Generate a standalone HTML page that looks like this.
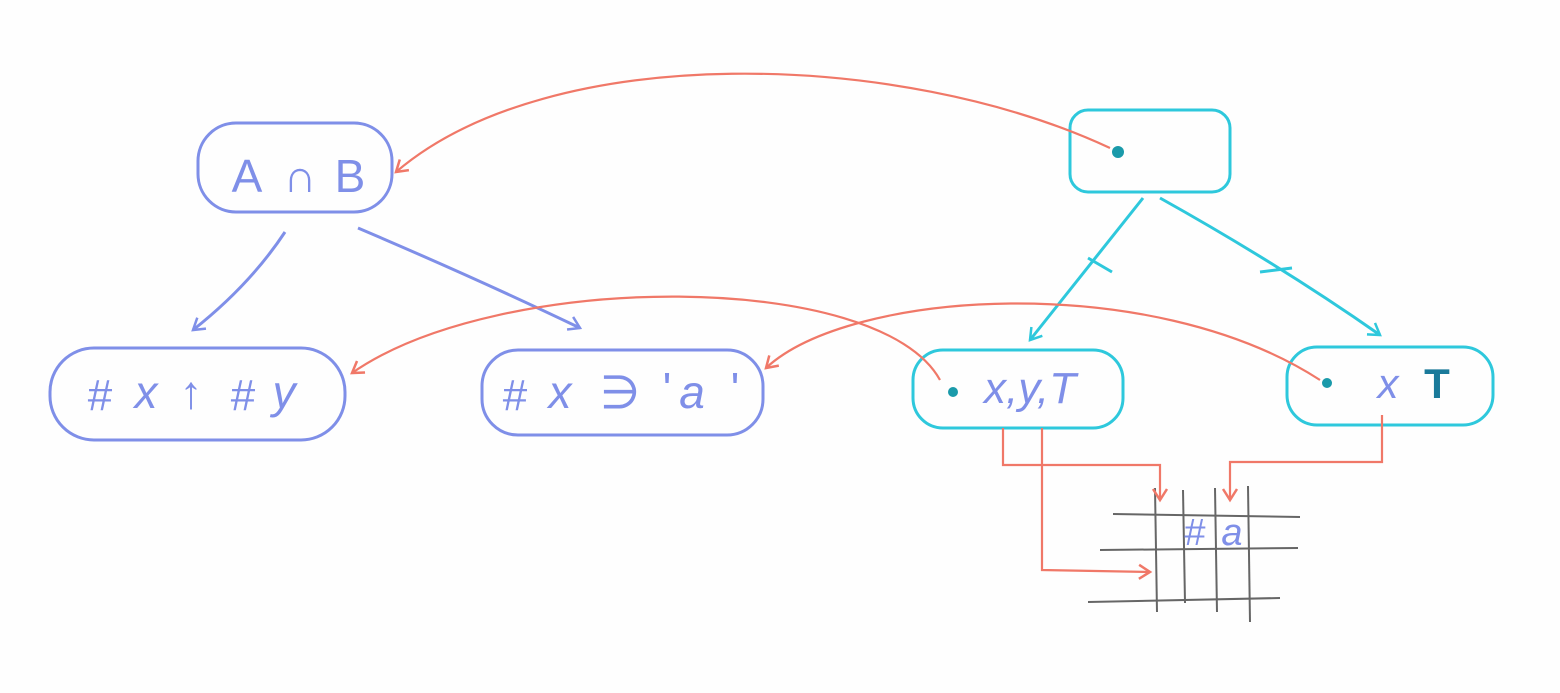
<!DOCTYPE html>
<html><head><meta charset="utf-8"><style>
html,body{margin:0;padding:0;background:#fff;}
svg{display:block;}
text{font-family:"Liberation Sans",sans-serif;text-anchor:middle;}
</style></head><body>
<svg width="1560" height="693" viewBox="0 0 1560 693" xmlns="http://www.w3.org/2000/svg">
<rect width="1560" height="693" fill="#fefefe"/>
<defs>
<marker id="ar" markerWidth="18" markerHeight="18" refX="13" refY="9" orient="auto" markerUnits="userSpaceOnUse"><path d="M2,2 L13,9 L2,16" fill="none" stroke="#f07868" stroke-width="2.5"/></marker>
<marker id="ab" markerWidth="18" markerHeight="18" refX="13" refY="9" orient="auto" markerUnits="userSpaceOnUse"><path d="M2,2 L13,9 L2,16" fill="none" stroke="#7f8fe8" stroke-width="2.5"/></marker>
<marker id="ac" markerWidth="18" markerHeight="18" refX="13" refY="9" orient="auto" markerUnits="userSpaceOnUse"><path d="M2,2 L13,9 L2,16" fill="none" stroke="#2ec8dc" stroke-width="2.5"/></marker>
</defs>
<g fill="none" stroke-width="3">
<g stroke="#666" stroke-width="2">
<line x1="1113" y1="514" x2="1300" y2="517"/>
<line x1="1100" y1="550" x2="1298" y2="548"/>
<line x1="1088" y1="602" x2="1280" y2="598"/>
<line x1="1155" y1="488" x2="1157" y2="612"/>
<line x1="1183" y1="490" x2="1185" y2="603"/>
<line x1="1215" y1="488" x2="1217" y2="612"/>
<line x1="1248" y1="486" x2="1250" y2="622"/>
</g>
<g stroke="#7f8fe8">
<rect x="198" y="123" width="194" height="89" rx="38"/>
<rect x="50" y="348" width="295" height="92" rx="44"/>
<rect x="482" y="350" width="281" height="85" rx="36"/>
<path d="M285,232 Q250,285 193,330" marker-end="url(#ab)"/>
<path d="M358,228 Q480,280 580,328" marker-end="url(#ab)"/>
</g>
<g stroke="#2ec8dc">
<rect x="1070" y="110" width="160" height="82" rx="18"/>
<rect x="913" y="350" width="210" height="78" rx="30"/>
<rect x="1287" y="347" width="206" height="78" rx="30"/>
<path d="M1143,198 Q1090,265 1030,340" marker-end="url(#ac)"/>
<path d="M1160,198 Q1280,265 1380,335" marker-end="url(#ac)"/>
<line x1="1088" y1="258" x2="1112" y2="272"/>
<line x1="1260" y1="272" x2="1292" y2="268"/>
</g>
<g stroke="#f07868" stroke-width="2.2">
<path d="M1110,148 C900,50 550,40 396,172" marker-end="url(#ar)"/>
<path d="M940,380 C880,270 500,270 352,373" marker-end="url(#ar)"/>
<path d="M1320,380 C1150,270 850,290 766,368" marker-end="url(#ar)"/>
<path d="M1003,428 L1003,465 L1160,465 L1160,500" marker-end="url(#ar)"/>
<path d="M1042,428 L1042,570 L1150,572" marker-end="url(#ar)"/>
<path d="M1382,415 L1382,462 L1230,462 L1230,500" marker-end="url(#ar)"/>
</g>
</g>
<circle cx="1118" cy="152" r="6" fill="#1a9aaa"/>
<circle cx="953" cy="392" r="5" fill="#1a9aaa"/>
<circle cx="1327" cy="383" r="5" fill="#1a9aaa"/>
<g fill="#7f8fe8" font-size="46">
<text x="247" y="192">A</text><text x="300" y="192">∩</text><text x="350" y="192">B</text>
<text x="100" y="410" font-size="44">#</text><text x="146" y="408" font-style="italic">x</text><text x="191" y="408">↑</text><text x="243" y="410" font-size="44">#</text><text x="284" y="408" font-style="italic">y</text>
<text x="515" y="410" font-size="44">#</text><text x="560" y="408" font-style="italic">x</text><text x="620" y="408">∋</text><text x="667" y="405">'</text><text x="692" y="408" font-style="italic">a</text><text x="735" y="405">'</text>
<text x="1030" y="403" font-style="italic" font-size="44">x,y,T</text>
<text x="1388" y="398" font-style="italic" font-size="42">x</text>
<text x="1437" y="398" fill="#1a7a9a" font-weight="bold" font-size="42">T</text>
<text x="1195" y="545" font-size="38">#</text><text x="1232" y="545" font-size="38" font-style="italic">a</text>
</g>
</svg>
</body></html>
